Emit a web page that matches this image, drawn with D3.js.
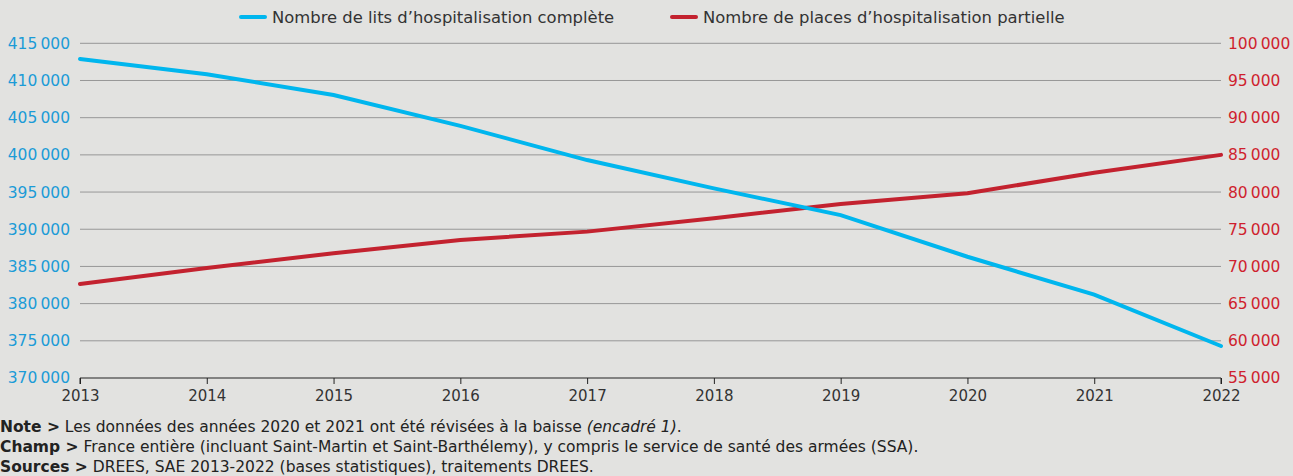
<!DOCTYPE html>
<html><head><meta charset="utf-8">
<script src="https://cdn.jsdelivr.net/npm/d3@7"></script>
<style>
html,body{margin:0;padding:0;background:#e2e2e0;}
svg{display:block;font-family:"DejaVu Sans",sans-serif;}
</style></head>
<body>
<svg id="chart" width="1293" height="476"></svg>
<script>
const years = [2013,2014,2015,2016,2017,2018,2019,2020,2021,2022];
const litsComplete = [412900,410850,408050,403900,399300,395500,391900,386300,381200,374300];
const placesPartielle = [67650,69800,71770,73550,74680,76480,78400,79840,82600,85000];
const leftTicks = [370000,375000,380000,385000,390000,395000,400000,405000,410000,415000];
const rightTicks = [55000,60000,65000,70000,75000,80000,85000,90000,95000,100000];
const legendLabels = ["Nombre de lits d\u2019hospitalisation complète","Nombre de places d\u2019hospitalisation partielle"];

const svg = d3.select("#chart");
const m = {l:80, r:1221, t:43.3, b:378};
const blue = "#00b6ee", red = "#c3222f";
const blueTxt = "#1b9bd7", redTxt = "#cf1f2e";
const FONT = "'DejaVu Sans',sans-serif";

const x = d3.scaleLinear().domain([2013,2022]).range([m.l,m.r]);
const yL = d3.scaleLinear().domain([370000,415000]).range([m.b,m.t]);
const yR = d3.scaleLinear().domain([55000,100000]).range([m.b,m.t]);
const fmt = v => d3.format(",")(v).replace(/,/g,"\u202f");

// gridlines
svg.append("g").selectAll("line").data(leftTicks.slice(1)).join("line")
  .attr("x1",m.l).attr("x2",m.r).attr("y1",d=>yL(d)).attr("y2",d=>yL(d))
  .attr("stroke","#979797").attr("stroke-width",1);

// left axis labels
const gL = svg.append("g").attr("transform",`translate(${m.l},0)`)
  .call(d3.axisLeft(yL).tickValues(leftTicks).tickFormat(fmt).tickSize(0).tickPadding(10));
gL.select(".domain").remove();
gL.selectAll("text").attr("fill",blueTxt).style("font-size","15.5px").style("font-family",FONT);

const gR = svg.append("g").attr("transform",`translate(${m.r},0)`)
  .call(d3.axisRight(yR).tickValues(rightTicks).tickFormat(fmt).tickSize(0).tickPadding(7));
gR.select(".domain").remove();
gR.selectAll("text").attr("fill",redTxt).style("font-size","15.5px").style("font-family",FONT);

// bottom axis
const gB = svg.append("g").attr("transform",`translate(0,${m.b})`)
  .call(d3.axisBottom(x).tickValues(years).tickFormat(d3.format("d")).tickSize(6).tickPadding(6));
gB.select(".domain").attr("stroke","#222").attr("d",`M${m.l},6V0H${m.r}V6`);
gB.selectAll(".tick line").attr("stroke","#222");
gB.selectAll("text").attr("fill","#333").style("font-size","15px").style("font-family",FONT);

// lines
const lineL = d3.line().x((d,i)=>x(years[i])).y(d=>yL(d));
const lineR = d3.line().x((d,i)=>x(years[i])).y(d=>yR(d));
svg.append("path").datum(placesPartielle).attr("d",lineR).attr("fill","none")
  .attr("stroke",red).attr("stroke-width",4).attr("stroke-linecap","round");
svg.append("path").datum(litsComplete).attr("d",lineL).attr("fill","none")
  .attr("stroke",blue).attr("stroke-width",4).attr("stroke-linecap","round");

// legend
const leg = [{x:241,c:blue,t:legendLabels[0]},{x:672,c:red,t:legendLabels[1]}];
const lg = svg.append("g");
leg.forEach(d=>{
  lg.append("line").attr("x1",d.x).attr("x2",d.x+24).attr("y1",17).attr("y2",17)
    .attr("stroke",d.c).attr("stroke-width",4).attr("stroke-linecap","round");
  lg.append("text").attr("x",d.x+31).attr("y",23).text(d.t)
    .attr("fill","#333").style("font-size","16.4px").style("font-family",FONT);
});

// notes
const notes = [
  [["Note >",true,false],[" Les données des années 2020 et 2021 ont été révisées à la baisse ",false,false],["(encadré 1)",false,true],[".",false,false]],
  [["Champ >",true,false],[" France entière (incluant Saint-Martin et Saint-Barthélemy), y compris le service de santé des armées (SSA).",false,false]],
  [["Sources >",true,false],[" DREES, SAE 2013-2022 (bases statistiques), traitements DREES.",false,false]]
];
notes.forEach((ln,i)=>{
  const t = svg.append("text").attr("x",0).attr("y",432+i*20).attr("fill","#222").style("font-size","15.5px").style("font-family",FONT);
  ln.forEach(s=>{
    t.append("tspan").text(s[0]).style("font-weight",s[1]?"700":"400").style("font-style",s[2]?"italic":"normal");
  });
});
</script>
</body></html>
